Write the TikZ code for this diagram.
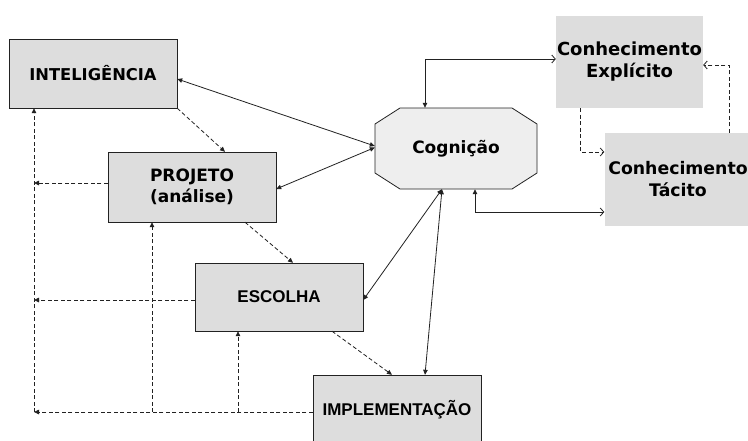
\documentclass[tikz,border=0pt]{standalone}
\usepackage{fontspec}
\setmainfont{DejaVu Sans}
\newfontfamily\arialbold{Liberation Sans}
\usetikzlibrary{arrows.meta,calc,positioning}
\definecolor{boxgray}{HTML}{DDDDDD}
\definecolor{coggray}{HTML}{EEEEEE}
\definecolor{ink}{HTML}{222222}

\begin{document}
\begin{tikzpicture}[x=1pt,y=-1pt,
  tri/.tip={Triangle[length=5pt,width=4.5pt]},
  barb/.tip={Straight Barb[length=3.5pt,width=8pt]},
  every node/.style={font=\bfseries,align=center},
  stage/.style={draw=ink,fill=boxgray,minimum width=168pt,minimum height=69pt,inner sep=0pt},
  knowbox/.style={fill=boxgray,minimum width=147pt,minimum height=92pt,inner sep=0pt,font=\bfseries\fontsize{18}{22}\selectfont},
  link/.style={ink,line width=0.8pt},
  loop/.style={ink,line width=0.8pt,dash pattern=on 4pt off 2.5pt}]
\useasboundingbox[fill=white] (0,0) rectangle (748,440);
% fases do processo decisorio
\node[stage,font=\bfseries\fontsize{16.3}{20}\selectfont] (intel) at (93,73.5) {INTELIGÊNCIA};
\node[stage,minimum height=70pt,font=\bfseries\fontsize{17}{21.5}\selectfont] (projeto) at (192,187) {PROJETO\\(análise)};
\node[stage,minimum height=68pt,font=\arialbold\bfseries\fontsize{17}{20}\selectfont] (escolha) at (279,297) {ESCOLHA};
\node[stage,minimum height=70pt,font=\arialbold\bfseries\fontsize{17}{20}\selectfont] (implem) at (397,410) {IMPLEMENTAÇÃO};
% cognicao (octogono)
\draw[ink,line width=0.8pt,fill=coggray] (400,108) -- (512,108) -- (537,124) -- (537,173)
  -- (512,189) -- (400,189) -- (375,173) -- (375,124) -- cycle;
\node[minimum width=162pt,minimum height=81pt,inner sep=0pt,font=\bfseries\fontsize{17}{20}\selectfont] (cog) at (456,148.5) {Cognição};
% conhecimento
\node[knowbox] (explicito) at (629.5,62) {Conhecimento\\Explícito};
\node[knowbox,minimum height=93pt,font=\bfseries\fontsize{17.3}{22}\selectfont] (tacito) at (678,179.5) {Conhecimento\\Tácito};

% ligacoes com a cognicao
\draw[link,{tri}-{tri}] ([yshift=-5.5pt]intel.east) -- ([yshift=2.5pt]cog.west);
\draw[link,{tri}-{tri}] ([yshift=-2pt]projeto.east) -- ([yshift=1pt]cog.west);
\draw[link,{tri}-{tri}] ([yshift=-3pt]escolha.east) -- ([xshift=-14pt]cog.south);
\draw[link,{tri}-{tri}] ([xshift=28pt]implem.north) -- ([xshift=-14pt]cog.south);
\draw[link,{tri}-{barb}] ([xshift=-31pt]cog.north) |- ([yshift=3pt]explicito.west);
\draw[link,{tri}-{barb}] ([xshift=19pt]cog.south) |- ([yshift=-32.5pt]tacito.west);
\draw[loop,-{barb}] ([xshift=-49pt]explicito.south) |- ([yshift=27.5pt]tacito.west);
\draw[loop,-{barb}] ([xshift=51pt]tacito.north) |- ([yshift=-3pt]explicito.east);

% sequencia das fases
\draw[loop,-{tri}] (intel.south east) -- ([xshift=33pt]projeto.north);
\draw[loop,-{tri}] ([xshift=53pt]projeto.south) -- ([xshift=14pt]escolha.north);
\draw[loop,-{tri}] ([xshift=53pt]escolha.south) -- ([xshift=-5pt]implem.north);

% retornos
\coordinate (fb) at (34,412);
\coordinate (p1) at ([xshift=-40pt]projeto.south);
\coordinate (e1) at ([xshift=-41pt]escolha.south);
\draw[loop,-{tri}] ([yshift=-2pt]implem.west) -- (fb);
\draw[loop,-{tri}] (fb) -- (fb |- intel.south);
\draw[loop,-{tri}] ([yshift=4pt]projeto.west) -- ([yshift=4pt]projeto.west -| fb);
\draw[loop,-{tri}] ([yshift=-3pt]escolha.west) -- ([yshift=-3pt]escolha.west -| fb);
\draw[loop,-{tri}] (p1 |- fb) -- (p1);
\draw[loop,-{tri}] (e1 |- fb) -- (e1);
\end{tikzpicture}
\end{document}
